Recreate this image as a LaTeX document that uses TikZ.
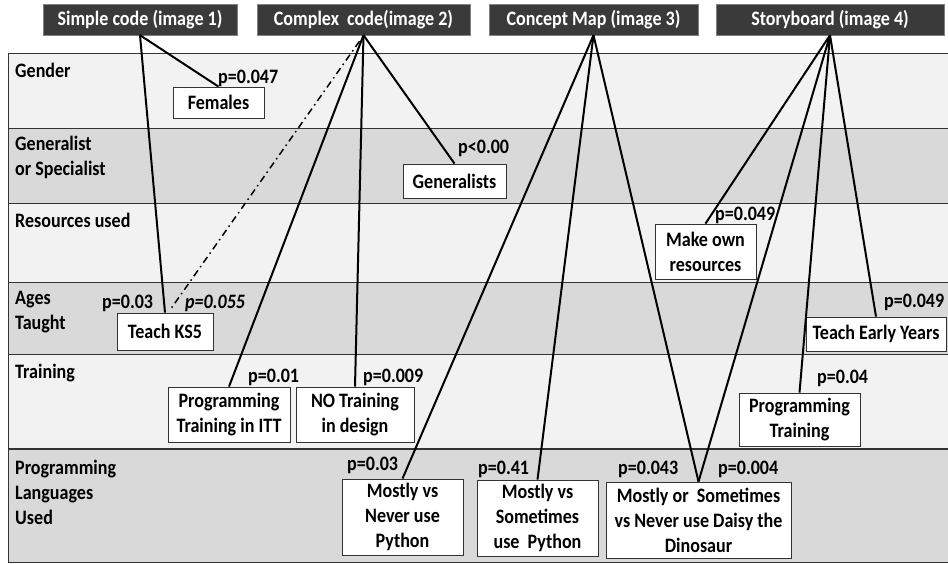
\documentclass[tikz,border=0pt]{standalone}
\usepackage{fontspec}
\setmainfont{Carlito}[FakeStretch=0.88]

\definecolor{headfill}{HTML}{3A3A3A}
\definecolor{rowlight}{HTML}{F2F2F2}
\definecolor{rowdark}{HTML}{D9D9D9}
\definecolor{rulegray}{HTML}{333333}

\tikzset{
  headbox/.style={fill=headfill, draw=gray, text=white, inner sep=0pt, minimum height=31pt},
  resbox/.style={fill=white, draw=rulegray, line width=0.8pt, align=center, inner sep=0pt},
  pval/.style={anchor=west, inner sep=0pt},
  rowlab/.style={anchor=west, align=left, inner sep=0pt},
  link/.style={line width=2pt, black},
}

\begin{document}
\begin{tikzpicture}[x=1pt, y=-1pt, font=\fontsize{20.5}{25}\selectfont\bfseries]
    \useasboundingbox (0,0) rectangle (948,564);
    % table rows
    \begin{scope}
        \clip (0,0) rectangle (948,564);
        \filldraw[fill=rowlight, draw=rulegray, line width=0.8pt] (8,53) rectangle (960,128);
        \filldraw[fill=rowdark, draw=rulegray, line width=0.8pt] (8,128) rectangle (960,203);
        \filldraw[fill=rowlight, draw=rulegray, line width=0.8pt] (8,203) rectangle (960,282);
        \filldraw[fill=rowdark, draw=rulegray, line width=0.8pt] (8,282) rectangle (960,354);
        \filldraw[fill=rowlight, draw=rulegray, line width=0.8pt] (8,354) rectangle (960,449);
        \filldraw[fill=rowdark, draw=rulegray, line width=0.8pt] (8,449) rectangle (960,562);
        \draw[rulegray, line width=1.5pt] (8,449) -- (960,449);
    \end{scope}
    \node[rowlab] (gender) at (15,70) {Gender};
    \node[rowlab] (genspec) at (15,157.5) {Generalist\\or Specialist};
    \node[rowlab] (resused) at (15,220) {Resources used};
    \node[rowlab] (ages) at (15,312.5) {Ages\\Taught};
    \node[rowlab] (training) at (15,373) {Training};
    \node[rowlab] (proglang) at (15,492) {Programming\\Languages\\Used};

    % headers
    \node[headbox, minimum width=194pt] (simple) at (140,19.5) {Simple code (image 1)};
    \node[headbox, minimum width=213pt] (complex) at (363.5,19.5) {Complex\ \ code(image 2)};
    \node[headbox, minimum width=209pt] (concept) at (593.5,19.5) {Concept Map (image 3)};
    \node[headbox, minimum width=228pt] (story) at (830,19.5) {Storyboard (image 4)};

    % result boxes
    \node[resbox, minimum width=91pt, minimum height=31pt] (females) at (218.5,102.5) {Females};
    \node[resbox, minimum width=103pt, minimum height=34pt] (generalists) at (454.5,181) {Generalists};
    \node[resbox, minimum width=101pt, minimum height=55pt] (ownres) at (705.5,251.5) {Make own\\resources};
    \node[resbox, minimum width=96pt, minimum height=37pt] (ks5) at (165,331.5) {Teach KS5};
    \node[resbox, minimum width=140pt, minimum height=34pt] (early) at (876,334) {Teach Early Years};
    \node[resbox, minimum width=122pt, minimum height=55pt] (itt) at (229,414.5) {Programming\\Training in ITT};
    \node[resbox, minimum width=118pt, minimum height=55pt] (notrain) at (355,414.5) {NO Training\\in design};
    \node[resbox, minimum width=121pt, minimum height=53pt] (progtrain) at (799.5,419.5) {Programming\\Training};
    \node[resbox, minimum width=121pt, minimum height=76pt] (neverpy) at (402.5,517) {Mostly vs\\Never use\\Python};
    \node[resbox, minimum width=121pt, minimum height=76pt] (sometpy) at (537.5,518) {Mostly vs\\Sometimes\\use\ \ Python};
    \node[resbox, minimum width=185pt, minimum height=76pt] (daisy) at (698.5,520) {Mostly or\ \ Sometimes\\vs Never use Daisy the\\Dinosaur};

    % p values
    \node[pval] (p047) at (218,78) {p=0.047};
    \node[pval] (p000) at (458,148) {p<0.00};
    \node[pval] (p049a) at (715,215) {p=0.049};
    \node[pval] (p03a) at (102,303) {p=0.03};
    \node[pval, font=\fontsize{20.5}{25}\selectfont\bfseries\itshape] (p055) at (185,303) {p=0.055};
    \node[pval] (p049b) at (884,302) {p=0.049};
    \node[pval] (p01) at (248,377) {p=0.01};
    \node[pval] (p009) at (363,377) {p=0.009};
    \node[pval] (p04) at (817,378) {p=0.04};
    \node[pval] (p03b) at (347,465) {p=0.03};
    \node[pval] (p41) at (478,469) {p=0.41};
    \node[pval] (p043) at (618,469) {p=0.043};
    \node[pval] (p004) at (718,469) {p=0.004};

    % links
    \draw[link] (simple.south) -- (females.north);
    \draw[link] (simple.south) -- (ks5.north);
    \draw[line width=1.5pt, dash pattern=on 7pt off 4pt on 1.5pt off 4pt] ([xshift=-4pt, yshift=-6pt]complex.south) -- ([xshift=6pt, yshift=4pt]ks5.north);
    \draw[link] (complex.south) -- (itt.north);
    \draw[link] (complex.south) -- (notrain.north);
    \draw[link] (complex.south) -- (generalists.north);
    \draw[link] (concept.south) -- (neverpy.north);
    \draw[link] (concept.south) -- (sometpy.north);
    \draw[link] (concept.south) -- (daisy.north);
    \draw[link] (story.south) -- (ownres.north);
    \draw[link] (story.south) -- (daisy.north);
    \draw[link] (story.south) -- (progtrain.north);
    \draw[link] (story.south) -- (early.north);
\end{tikzpicture}
\end{document}
